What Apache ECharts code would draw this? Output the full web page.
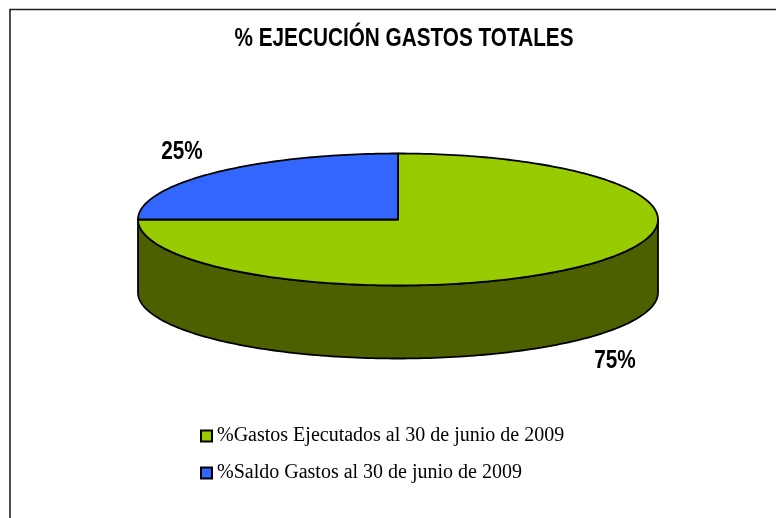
<!DOCTYPE html>
<html>
<head>
<meta charset="utf-8">
<style>
html, body { margin: 0; padding: 0; background: #fff; }
#main { width: 776px; height: 518px; }
</style>
<script src="https://cdn.jsdelivr.net/npm/echarts@6/dist/echarts.min.js"></script>
</head>
<body>
<div id="main"></div>
<script>
const titleText = '% EJECUCIÓN GASTOS TOTALES';
const categories = ['%Gastos Ejecutados al 30 de junio de 2009', '%Saldo Gastos al 30 de junio de 2009'];
const values = [75, 25];
const colors = ['#99cc00', '#3366ff'];
const sideColor = '#4d6000';

const cx = 398, cy = 219.5, rx = 260, ry = 66, depth = 73;
const labelPos = [[615, 361], [182, 152]];
const boldFont = 'bold 25px "Liberation Sans"';
const narrow = 0.83;
const total = values.reduce(function (a, b) { return a + b; }, 0);

// angle 0 is 12 o'clock, going clockwise
function ellipsePt(a, dy) {
    return [cx + rx * Math.sin(a), cy - ry * Math.cos(a) + (dy || 0)];
}
function arcPts(a0, a1, dy) {
    var pts = [];
    var n = Math.max(2, Math.ceil((a1 - a0) / 0.02));
    for (var i = 0; i <= n; i++) {
        pts.push(ellipsePt(a0 + (a1 - a0) * i / n, dy));
    }
    return pts;
}

function sliceSeries(idx) {
    var before = 0;
    for (var i = 0; i < idx; i++) before += values[i];
    var a0 = before / total * Math.PI * 2;
    var a1 = (before + values[idx]) / total * Math.PI * 2;
    return {
        type: 'custom',
        name: categories[idx],
        coordinateSystem: 'none',
        silent: true,
        z: idx === 0 ? 2 : 3,
        itemStyle: { color: colors[idx], borderColor: '#000', borderWidth: 1.5 },
        data: [values[idx]],
        renderItem: function () {
            var line = { stroke: '#000', lineWidth: 1.8, lineJoin: 'round' };
            var children = [];
            // side wall, only the front half of the rim shows
            var s0 = Math.max(a0, Math.PI / 2);
            var s1 = Math.min(a1, Math.PI * 1.5);
            if (s1 > s0) {
                children.push({
                    type: 'polygon',
                    shape: { points: arcPts(s0, s1, 0).concat(arcPts(s0, s1, depth).reverse()) },
                    style: Object.assign({ fill: sideColor }, line)
                });
            }
            children.push({
                type: 'polygon',
                shape: { points: [[cx, cy]].concat(arcPts(a0, a1, 0)) },
                style: Object.assign({ fill: colors[idx] }, line)
            });
            children.push({
                type: 'text',
                x: labelPos[idx][0], y: labelPos[idx][1],
                scaleX: narrow,
                style: {
                    text: values[idx] + '%',
                    fill: '#000',
                    font: boldFont,
                    align: 'center', verticalAlign: 'middle'
                }
            });
            return { type: 'group', children: children };
        }
    };
}

var chart = echarts.init(document.getElementById('main'), null, { renderer: 'canvas' });
chart.setOption({
    animation: false,
    backgroundColor: '#fff',
    legend: {
        orient: 'vertical',
        left: 195, top: 421,
        itemGap: 17,
        itemWidth: 11, itemHeight: 11,
        icon: 'rect',
        selectedMode: false,
        data: categories,
        textStyle: { fontFamily: 'Liberation Serif', fontSize: 20, color: '#000' }
    },
    graphic: [{
        type: 'rect',
        silent: true,
        shape: { x: 10, y: 9.5, width: 800, height: 600 },
        style: { fill: 'none', stroke: '#222', lineWidth: 1.6 }
    }, {
        type: 'text',
        silent: true,
        x: 404, y: 39,
        scaleX: narrow,
        style: {
            text: titleText,
            fill: '#000',
            font: boldFont,
            align: 'center', verticalAlign: 'middle'
        }
    }],
    series: values.map(function (v, i) { return sliceSeries(i); })
});
</script>
</body>
</html>
